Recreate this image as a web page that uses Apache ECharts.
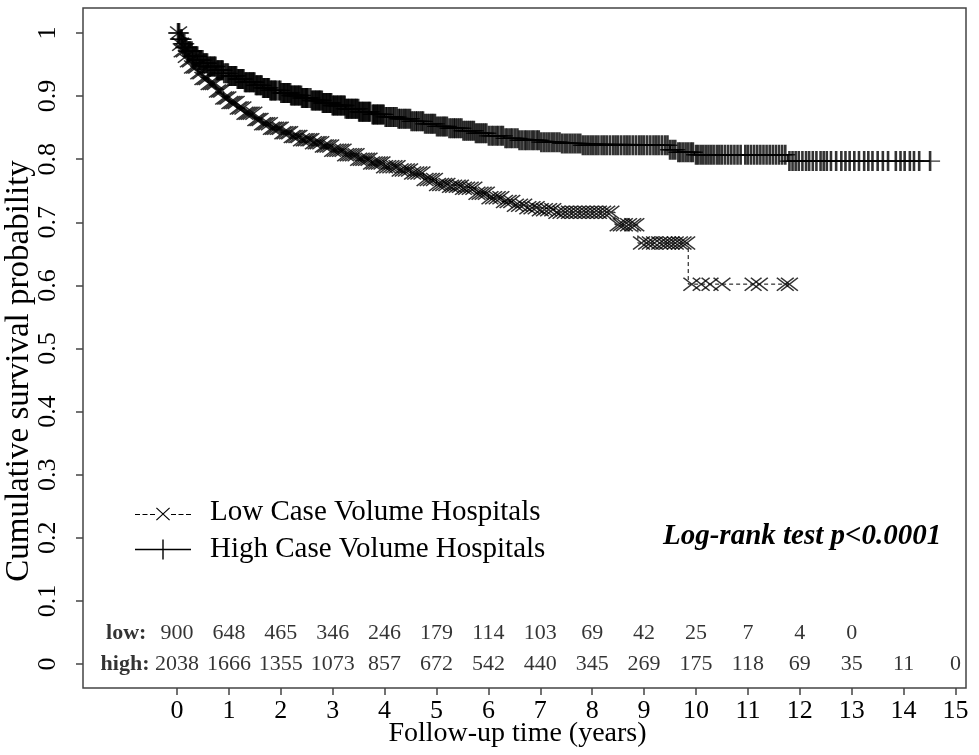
<!DOCTYPE html>
<html><head><meta charset="utf-8">
<script src="https://cdn.jsdelivr.net/npm/echarts@6/dist/echarts.min.js"></script>
<style>html,body{margin:0;padding:0;background:#fff}#c{width:979px;height:755px}</style>
</head><body><div id="c"></div>
<script>
// Kaplan-Meier step curves (time in years, survival probability)
const highT = [0,0.05,0.1,0.15,0.2,0.3,0.4,0.5,0.6,0.75,0.9,1.0,1.15,1.3,1.5,1.65,1.8,2.0,2.2,2.4,2.6,2.8,3.0,3.25,3.5,3.75,4.0,4.25,4.5,4.75,5.0,5.25,5.5,5.75,6.0,6.3,6.6,7.0,7.4,7.8,9.5,9.65,9.97,11.77,14.51];
const highS = [1.0,0.99,0.983,0.977,0.971,0.963,0.957,0.952,0.947,0.941,0.936,0.932,0.927,0.922,0.917,0.913,0.909,0.905,0.901,0.897,0.893,0.889,0.885,0.88,0.875,0.871,0.867,0.864,0.86,0.856,0.852,0.849,0.845,0.841,0.837,0.833,0.83,0.827,0.825,0.822,0.815,0.811,0.807,0.797,0.797];
const lowT = [0,0.05,0.1,0.15,0.2,0.3,0.4,0.5,0.6,0.75,0.9,1.0,1.15,1.3,1.5,1.65,1.8,2.0,2.2,2.4,2.6,2.8,3.0,3.25,3.5,3.75,4.0,4.25,4.5,4.75,5.0,5.25,5.5,5.75,6.0,6.25,6.5,6.75,7.0,7.3,8.44,8.88,9.85,11.8];
const lowS = [1.0,0.982,0.972,0.963,0.956,0.946,0.937,0.928,0.92,0.908,0.897,0.89,0.881,0.873,0.863,0.856,0.849,0.842,0.836,0.831,0.826,0.821,0.814,0.807,0.8,0.794,0.788,0.783,0.778,0.768,0.76,0.757,0.754,0.746,0.739,0.733,0.727,0.723,0.72,0.716,0.696,0.667,0.602,0.602];

// Censoring times (years)
const highCens = [0.02,0.04,0.07,0.09,0.11,0.14,0.16,0.18,0.21,0.23,0.25,0.28,0.3,0.32,0.35,0.37,0.39,0.42,0.44,0.46,0.49,0.51,0.53,0.56,0.58,0.6,0.63,0.65,0.67,0.7,0.72,0.74,0.77,0.79,0.81,0.84,0.86,0.88,0.91,0.95,0.98,
1.0,1.03,1.05,1.07,1.1,1.12,1.14,1.17,1.19,1.21,1.24,1.26,1.28,1.31,1.33,1.35,1.38,1.4,1.42,1.45,1.47,1.49,1.52,1.54,1.56,1.59,1.61,1.63,1.66,1.68,1.7,1.73,1.75,1.77,1.8,1.82,1.84,1.87,1.89,1.91,1.96,1.99,
2.01,2.04,2.06,2.08,2.11,2.13,2.15,2.18,2.2,2.22,2.25,2.27,2.29,2.32,2.34,2.36,2.39,2.41,2.43,2.46,2.48,2.5,2.52,2.57,2.6,2.62,2.65,2.67,2.69,2.72,2.74,2.76,2.79,2.81,2.83,2.86,2.88,2.9,2.93,2.95,2.97,
3.0,3.02,3.04,3.07,3.09,3.11,3.14,3.16,3.18,3.21,3.23,3.25,3.28,3.3,3.32,3.35,3.37,3.39,3.42,3.44,3.46,3.49,3.51,3.53,3.56,3.58,3.6,3.63,3.65,3.68,3.7,3.72,3.77,3.79,3.81,3.84,3.86,3.88,3.91,3.93,3.96,3.98,
4.02,4.05,4.09,4.12,4.16,4.19,4.23,4.27,4.3,4.34,4.38,4.41,4.45,4.49,4.52,4.56,4.6,4.63,4.67,4.71,4.74,4.78,4.82,4.86,4.9,4.93,4.97,
5.01,5.05,5.09,5.13,5.16,5.2,5.25,5.29,5.33,5.36,5.4,5.44,5.48,5.52,5.56,5.6,5.64,5.68,5.72,5.76,5.8,5.84,5.88,5.92,5.96,
6.01,6.06,6.1,6.15,6.19,6.24,6.28,6.33,6.37,6.42,6.46,6.51,6.56,6.6,6.65,6.7,6.74,6.79,6.84,6.88,6.93,6.97,
7.02,7.07,7.12,7.17,7.22,7.27,7.32,7.37,7.42,7.47,7.52,7.57,7.62,7.67,7.72,7.77,7.82,7.87,7.92,7.97,
8.02,8.07,8.12,8.18,8.23,8.28,8.34,8.4,8.45,8.5,8.56,8.62,8.67,8.72,8.78,8.84,8.9,8.95,9.0,9.06,9.12,9.18,9.23,9.28,9.34,9.4,9.45,
9.5,9.55,9.6,9.66,9.7,9.75,9.8,9.85,9.9,9.94,10.0,10.04,10.09,10.14,10.19,10.24,10.29,10.34,10.4,10.45,10.5,10.56,10.62,10.68,10.74,10.8,10.86,
10.95,11.0,11.06,11.12,11.18,11.24,11.3,11.36,11.42,11.48,11.54,11.6,11.66,11.72,11.8,11.86,11.92,11.98,12.05,12.12,12.18,12.25,12.32,12.4,12.46,12.52,12.6,12.7,12.8,12.88,12.96,13.05,13.14,13.24,13.32,13.4,13.5,13.6,13.7,13.85,13.94,14.02,14.12,14.2,14.3,14.51];
const lowCens = [0.03,0.07,0.1,0.14,0.18,0.22,0.26,0.3,0.34,0.38,0.42,0.46,0.5,0.54,0.58,0.62,0.66,0.7,0.74,0.78,0.82,0.86,0.9,0.94,0.98,
1.02,1.06,1.1,1.14,1.18,1.22,1.27,1.31,1.35,1.39,1.43,1.48,1.52,1.56,1.6,1.65,1.69,1.73,1.78,1.82,1.86,1.9,1.95,1.99,
2.04,2.08,2.13,2.17,2.22,2.26,2.31,2.35,2.4,2.45,2.49,2.54,2.58,2.63,2.68,2.72,2.77,2.82,2.86,2.91,2.96,
3.0,3.05,3.1,3.15,3.2,3.25,3.3,3.35,3.4,3.45,3.5,3.55,3.6,3.65,3.7,3.75,3.8,3.85,3.9,3.95,
4.0,4.06,4.12,4.18,4.24,4.3,4.36,4.42,4.48,4.54,4.6,4.66,4.72,4.78,4.84,4.9,4.96,
5.02,5.08,5.14,5.2,5.27,5.33,5.4,5.46,5.52,5.58,5.65,5.72,5.78,5.84,5.9,5.96,
6.03,6.1,6.17,6.24,6.31,6.38,6.45,6.52,6.6,6.68,6.76,6.84,6.92,
7.0,7.08,7.16,7.24,7.32,7.4,7.48,7.56,7.64,7.72,7.8,7.88,7.96,8.04,8.12,8.2,8.28,8.36,
8.5,8.56,8.62,8.7,8.78,8.84,
8.95,9.05,9.12,9.2,9.3,9.38,9.45,9.52,9.6,9.68,9.75,9.82,
9.92,10.1,10.27,10.5,11.1,11.22,11.72,11.8];

// Numbers at risk
const riskYears = [0,1,2,3,4,5,6,7,8,9,10,11,12,13,14,15];
const riskLow = [900,648,465,346,246,179,114,103,69,42,25,7,4,0];
const riskHigh = [2038,1666,1355,1073,857,672,542,440,345,269,175,118,69,35,11,0];

const xTicks = [0,1,2,3,4,5,6,7,8,9,10,11,12,13,14,15];
const yTicks = [0,0.1,0.2,0.3,0.4,0.5,0.6,0.7,0.8,0.9,1];

const nameLow = 'Low Case Volume Hospitals';
const nameHigh = 'High Case Volume Hospitals';

function stepAt(T, S, t) {
  let v = S[0];
  for (let i = 0; i < T.length; i++) { if (T[i] <= t) v = S[i]; else break; }
  return v;
}
const FONT = '"Liberation Serif", "Times New Roman", serif';
const plusPath = 'path://M8.7,0H11.3V20H8.7Z M0,9.3H20V10.7H0Z';
const xPath = 'path://M0,1.0L1.1,0L18,13.0L16.9,14Z M0,13.0L16.9,0L18,1.0L1.1,14Z';

const chart = echarts.init(document.getElementById('c'), null, {renderer: 'canvas'});
chart.setOption({
  animation: false,
  backgroundColor: '#fff',
  grid: {left: 83, right: 13, top: 8, bottom: 67, containLabel: false, outerBoundsMode: 'none',
    show: true, borderColor: '#444', borderWidth: 1.5, backgroundColor: 'transparent'},
  xAxis: {
    type: 'value', min: -1.811, max: 15.202,
    name: 'Follow-up time (years)', nameLocation: 'middle', nameGap: 32, nameMoveOverlap: false,
    nameTextStyle: {fontFamily: FONT, fontSize: 28, color: '#000', padding: [0, 14, 0, 0]},
    axisLine: {show: false, onZero: false},
    axisTick: {show: true, length: 7, customValues: xTicks, lineStyle: {color: '#444', width: 1.5}},
    axisLabel: {customValues: xTicks, fontFamily: FONT, fontSize: 26, color: '#000', margin: 10},
    splitLine: {show: false}
  },
  yAxis: {
    type: 'value', min: -0.038, max: 1.0396,
    name: 'Cumulative survival probability', nameLocation: 'middle', nameGap: 47, nameRotate: 90, nameMoveOverlap: false,
    nameTextStyle: {fontFamily: FONT, fontSize: 33, color: '#000', padding: [0, 46, 0, 0]},
    axisLine: {show: false, onZero: false},
    axisTick: {show: true, length: 7, customValues: yTicks, lineStyle: {color: '#444', width: 1.5}},
    axisLabel: {customValues: yTicks, rotate: 90, fontFamily: FONT, fontSize: 26, color: '#000', margin: 22,
      formatter: v => String(v)},
    splitLine: {show: false}
  },
  legend: {
    left: 130, top: 493, orient: 'vertical', itemWidth: 70, itemHeight: 20, itemGap: 8,
    selectedMode: false,
    textStyle: {fontFamily: FONT, fontSize: 29, color: '#000'},
    data: [
      {name: nameLow, icon: 'path://M0,0h0.01v0.01h-0.01Z M69.99,0h0.01v0.01h-0.01Z M0,9.5h5v0.9h-5Z M7.5,9.5h5v0.9h-5Z M15,9.5h5v0.9h-5Z M36,9.5h5v0.9h-5Z M43.5,9.5h5v0.9h-5Z M51,9.5h5v0.9h-5Z M21,3.8L21.8,3L35,15.2L34.2,16Z M21,15.2L34.2,3L35,3.8L21.8,16Z', itemStyle: {color: '#000', borderWidth: 0}},
      {name: nameHigh, icon: 'path://M0,0h0.01v0.01h-0.01Z M69.99,0h0.01v0.01h-0.01Z M0,9.3h56v1.4h-56Z M27.3,0h1.4v20h-1.4Z', itemStyle: {color: '#000', borderWidth: 0}}
    ]
  },
  graphic: [{
    type: 'text', left: 663, top: 522,
    style: {text: 'Log-rank test p<0.0001', font: 'italic bold 29px "Liberation Serif"', fill: '#000'}
  }],
  series: [
    {name: nameLow, type: 'line', step: 'end', symbol: 'none', data: lowT.map((t, i) => [t, lowS[i]]),
      lineStyle: {color: '#000', width: 1, type: [4, 3]}, itemStyle: {color: '#000'}, z: 2},
    {name: nameHigh, type: 'line', step: 'end', symbol: 'none', data: highT.map((t, i) => [t, highS[i]]),
      lineStyle: {color: '#000', width: 1.5}, itemStyle: {color: '#000'}, z: 2},
    {name: 'lowCensor', type: 'scatter', symbol: xPath, symbolSize: [18, 14],
      data: lowCens.map(t => [t, stepAt(lowT, lowS, t)]), itemStyle: {color: '#000'}, z: 3, silent: true},
    {name: 'highCensor', type: 'scatter', symbol: plusPath, symbolSize: 20,
      data: highCens.map(t => [t, stepAt(highT, highS, t)]), itemStyle: {color: '#000'}, z: 3, silent: true},
    {name: 'riskLow', type: 'scatter', symbolSize: 1, itemStyle: {color: 'rgba(0,0,0,0)'},
      data: riskLow.map((n, i) => [riskYears[i], 0.049, String(n)]),
      label: {show: true, position: 'inside', color: '#000', fontFamily: FONT, fontSize: 22,
        formatter: p => p.value[2]}, silent: true},
    {name: 'riskHigh', type: 'scatter', symbolSize: 1, itemStyle: {color: 'rgba(0,0,0,0)'},
      data: riskHigh.map((n, i) => [riskYears[i], 0, String(n)]),
      label: {show: true, position: 'inside', color: '#000', fontFamily: FONT, fontSize: 22,
        formatter: p => p.value[2]}, silent: true},
    {name: 'riskHeads', type: 'scatter', symbolSize: 1, itemStyle: {color: 'rgba(0,0,0,0)'},
      data: [[-0.58, 0.049, 'low:'], [-0.52, 0, 'high:']],
      label: {show: true, position: 'left', distance: 0, color: '#000', fontFamily: FONT, fontSize: 22, fontWeight: 'bold',
        formatter: p => p.value[2]}, silent: true}
  ]
});
</script></body></html>
